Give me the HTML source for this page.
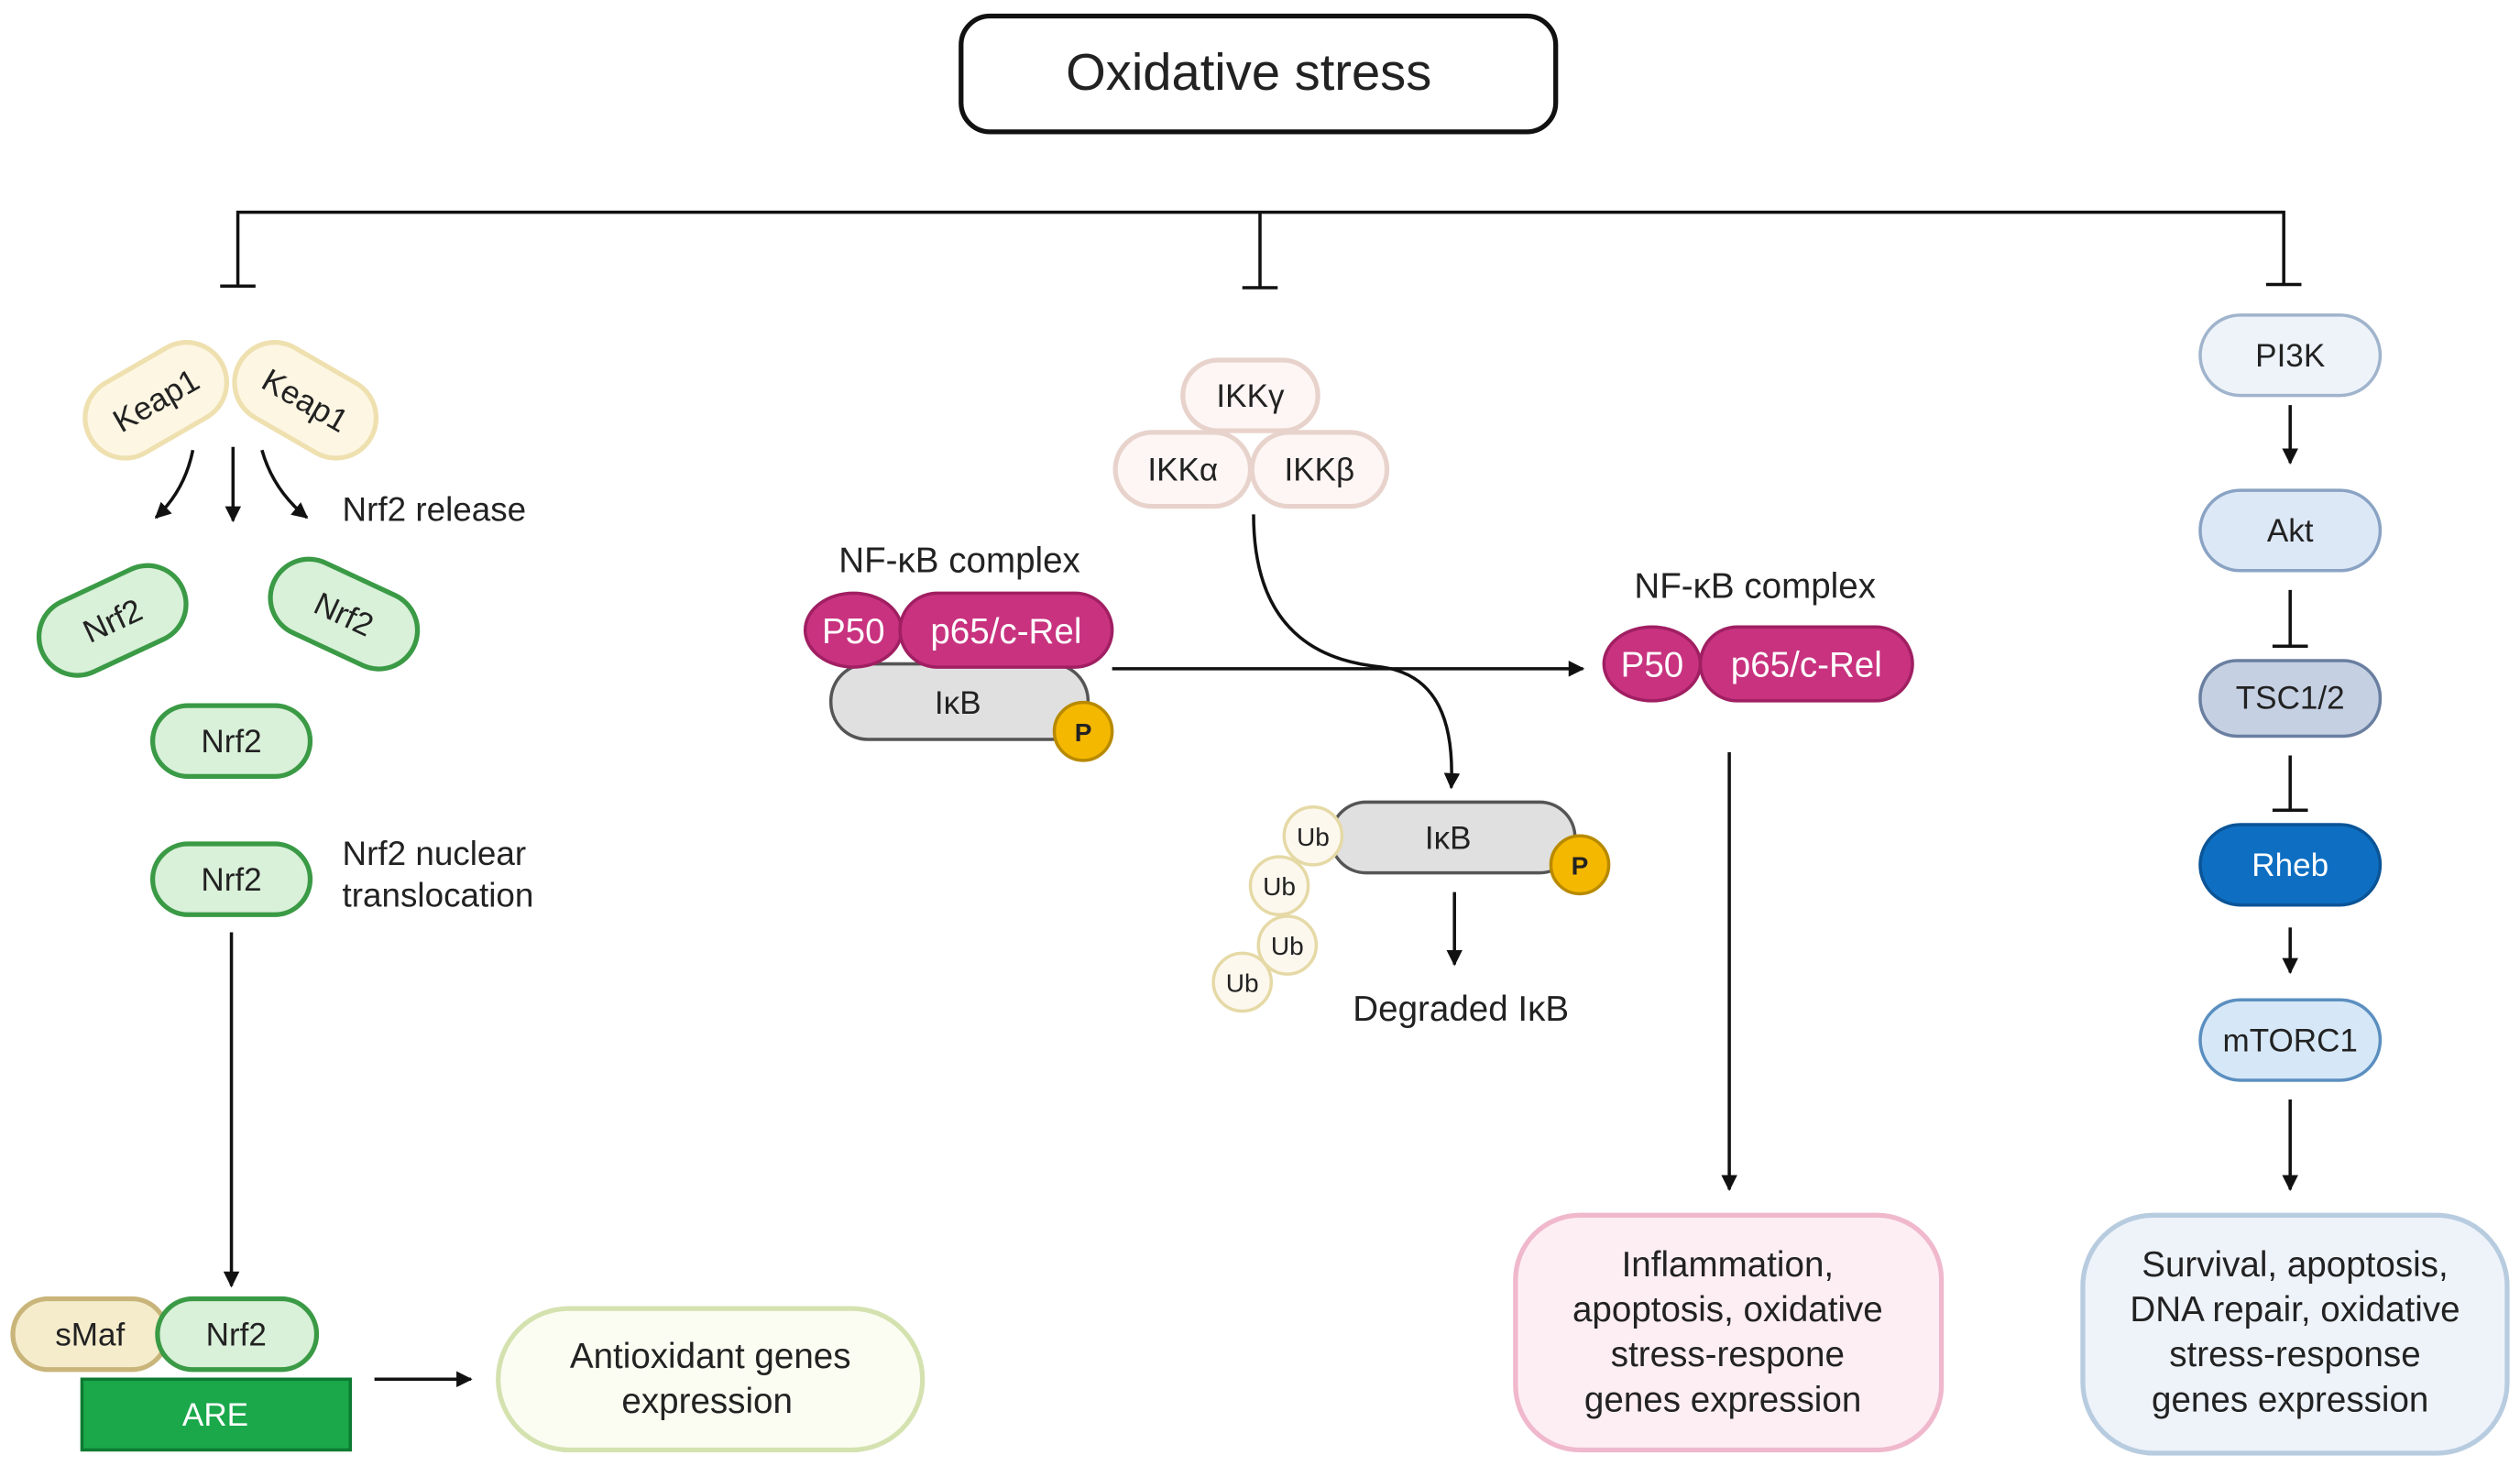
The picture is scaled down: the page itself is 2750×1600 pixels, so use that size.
<!DOCTYPE html>
<html><head><meta charset="utf-8"><style>html,body{margin:0;padding:0;background:#fff}svg{display:block}text{font-family:"Liberation Sans",sans-serif;fill:#222}</style></head><body>
<svg width="2750" height="1600" viewBox="0 0 1568 912" preserveAspectRatio="none" xmlns="http://www.w3.org/2000/svg">
<defs><marker id="a" viewBox="0 0 10 10" refX="9" refY="5" markerWidth="5" markerHeight="5" orient="auto"><path d="M0,0 L10,5 L0,10 z" fill="#111"/></marker></defs>
<g stroke="#111" stroke-width="2" fill="none">
<rect x="598" y="10" width="370" height="72" rx="18" stroke-width="3" fill="#fff"/>
<path d="M148 178 V132 H1421 V177 M784 132 V179 M137 178 H159 M773 179 H795 M1410 177 H1432"/>
<path d="M120 280 Q115 305 97 322" marker-end="url(#a)"/>
<path d="M145 278 V324" marker-end="url(#a)"/>
<path d="M163 280 Q170 305 191 322" marker-end="url(#a)"/>
<path d="M144 580 V800" marker-end="url(#a)"/>
<path d="M233 858 H293" marker-end="url(#a)"/>
<path d="M692 416 H985" marker-end="url(#a)"/>
<path d="M780 320 C780 400 830 412 860 415 C895 420 905 450 903 490" marker-end="url(#a)"/>
<path d="M1076 468 V740" marker-end="url(#a)"/>
<path d="M905 555 V600" marker-end="url(#a)"/>
<path d="M1425 252 V288" marker-end="url(#a)"/>
<path d="M1425 367 V402 M1414 402 H1436 M1425 470 V504 M1414 504 H1436"/>
<path d="M1425 577 V605" marker-end="url(#a)"/>
<path d="M1425 684 V740" marker-end="url(#a)"/>
</g>
<text x="777" y="56" font-size="32" text-anchor="middle">Oxidative stress</text>
<g font-size="20" text-anchor="middle">
<g transform="translate(97,249) rotate(-30)"><rect x="-47" y="-25" width="94" height="50" rx="25" fill="#fdf6e3" stroke="#efe0b0" stroke-width="3"/><text y="7">Keap1</text></g>
<g transform="translate(190,249) rotate(30)"><rect x="-47" y="-25" width="94" height="50" rx="25" fill="#fdf6e3" stroke="#efe0b0" stroke-width="3"/><text y="7">Keap1</text></g>
<g transform="translate(70,386) rotate(-25)"><rect x="-48" y="-24" width="96" height="48" rx="24" fill="#d9f0d9" stroke="#3a9a45" stroke-width="3"/><text y="7">Nrf2</text></g>
<g transform="translate(214,382) rotate(25)"><rect x="-48" y="-24" width="96" height="48" rx="24" fill="#d9f0d9" stroke="#3a9a45" stroke-width="3"/><text y="7">Nrf2</text></g>
<rect x="95" y="439" width="98" height="44" rx="22" fill="#d9f0d9" stroke="#3a9a45" stroke-width="3"/><text x="144" y="468">Nrf2</text>
<rect x="95" y="525" width="98" height="44" rx="22" fill="#d9f0d9" stroke="#3a9a45" stroke-width="3"/><text x="144" y="554">Nrf2</text>
<rect x="8" y="808" width="96" height="44" rx="22" fill="#f5eccc" stroke="#c9b57a" stroke-width="3"/><text x="56" y="837">sMaf</text>
<rect x="98" y="808" width="99" height="44" rx="22" fill="#d9f0d9" stroke="#3a9a45" stroke-width="3"/><text x="147" y="837">Nrf2</text>
<rect x="51" y="858" width="167" height="44" fill="#1aa84a" stroke="#0d7a32" stroke-width="2"/><text x="134" y="887" style="fill:#fff">ARE</text>
<rect x="310" y="814" width="264" height="88" rx="44" fill="#fbfdf2" stroke="#d4e2b0" stroke-width="3"/>
<text x="442" y="851" font-size="22">Antioxidant genes</text><text x="440" y="879" font-size="22">expression</text>
<rect x="736" y="224" width="84" height="44" rx="22" fill="#fdf6f4" stroke="#e8d3cc" stroke-width="3"/><text x="778" y="253">IKKγ</text>
<rect x="694" y="269" width="84" height="46" rx="23" fill="#fdf6f4" stroke="#e8d3cc" stroke-width="3"/><text x="736" y="299">IKKα</text>
<rect x="779" y="269" width="84" height="46" rx="23" fill="#fdf6f4" stroke="#e8d3cc" stroke-width="3"/><text x="821" y="299">IKKβ</text>
<text x="597" y="356" font-size="22">NF-κB complex</text>
<rect x="517" y="413" width="160" height="47" rx="23" fill="#e0e0e0" stroke="#555" stroke-width="2"/><text x="596" y="444">IκB</text>
<ellipse cx="531" cy="392" rx="30" ry="23" fill="#c8327f" stroke="#a01f62" stroke-width="2"/><text x="531" y="400" font-size="22" style="fill:#fff">P50</text>
<rect x="560" y="369" width="132" height="46" rx="23" fill="#c8327f" stroke="#a01f62" stroke-width="2"/><text x="626" y="400" font-size="22" style="fill:#fff">p65/c-Rel</text>
<circle cx="674" cy="455" r="18" fill="#f5b800" stroke="#b88a00" stroke-width="2"/><text x="674" y="461" font-size="16" font-weight="bold">P</text>
<text x="1092" y="372" font-size="22">NF-κB complex</text>
<ellipse cx="1028" cy="413" rx="30" ry="23" fill="#c8327f" stroke="#a01f62" stroke-width="2"/><text x="1028" y="421" font-size="22" style="fill:#fff">P50</text>
<rect x="1058" y="390" width="132" height="46" rx="23" fill="#c8327f" stroke="#a01f62" stroke-width="2"/><text x="1124" y="421" font-size="22" style="fill:#fff">p65/c-Rel</text>
<rect x="828" y="499" width="152" height="44" rx="22" fill="#e0e0e0" stroke="#555" stroke-width="2"/><text x="901" y="528">IκB</text>
<circle cx="983" cy="538" r="18" fill="#f5b800" stroke="#b88a00" stroke-width="2"/><text x="983" y="544" font-size="16" font-weight="bold">P</text>
<g fill="#fdf8ee" stroke="#e5d9a6" stroke-width="2"><circle cx="817" cy="520" r="18"/><circle cx="796" cy="551" r="18"/><circle cx="801" cy="588" r="18"/><circle cx="773" cy="611" r="18"/></g>
<g font-size="16"><text x="817" y="526">Ub</text><text x="796" y="557">Ub</text><text x="801" y="594">Ub</text><text x="773" y="617">Ub</text></g>
<text x="909" y="635" font-size="22">Degraded IκB</text>
<rect x="943" y="756" width="265" height="146" rx="40" fill="#fdeef3" stroke="#f0b8cc" stroke-width="3"/>
<g font-size="22"><text x="1075" y="794">Inflammation,</text><text x="1075" y="822">apoptosis, oxidative</text><text x="1075" y="850">stress-respone</text><text x="1072" y="878">genes expression</text></g>
<rect x="1369" y="196" width="112" height="50" rx="25" fill="#eef3fa" stroke="#a0b4cc" stroke-width="2"/><text x="1425" y="228">PI3K</text>
<rect x="1369" y="305" width="112" height="50" rx="25" fill="#dde8f7" stroke="#8aa3c4" stroke-width="2"/><text x="1425" y="337">Akt</text>
<rect x="1369" y="411" width="112" height="47" rx="23" fill="#c5d0e3" stroke="#6a7fa0" stroke-width="2"/><text x="1425" y="441">TSC1/2</text>
<rect x="1369" y="513" width="112" height="50" rx="25" fill="#0e6fc2" stroke="#0a5497" stroke-width="2"/><text x="1425" y="545" style="fill:#fff">Rheb</text>
<rect x="1369" y="622" width="112" height="50" rx="25" fill="#d6e8f7" stroke="#5b8fc0" stroke-width="2"/><text x="1425" y="654">mTORC1</text>
<rect x="1296" y="756" width="264" height="148" rx="44" fill="#eef3fa" stroke="#b8cce0" stroke-width="3"/>
<g font-size="22"><text x="1428" y="794">Survival, apoptosis,</text><text x="1428" y="822">DNA repair, oxidative</text><text x="1428" y="850">stress-response</text><text x="1425" y="878">genes expression</text></g>
</g>
<g font-size="21"><text x="213" y="324">Nrf2 release</text><text x="213" y="538">Nrf2 nuclear</text><text x="213" y="564">translocation</text></g>
</svg>
</body></html>
